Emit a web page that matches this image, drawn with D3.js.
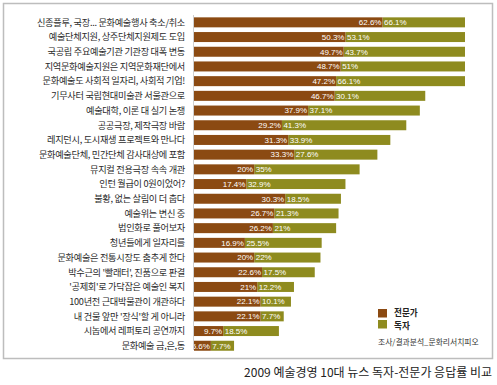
<!DOCTYPE html>
<html><head><meta charset="utf-8">
<script src="https://cdn.jsdelivr.net/npm/d3@7"></script>
<style>
html,body{margin:0;padding:0;background:#fff;}
svg{display:block;}
</style></head>
<body>
<svg id="chart" width="497" height="385"></svg>
<script>
const categories = [
  "신종플루, 국장... 문화예술행사 축소/취소",
  "예술단체지원, 상주단체지원제도 도입",
  "국공립 주요예술기관 기관장 대폭 변동",
  "지역문화예술지원은 지역문화재단에서",
  "문화예술도 사회적 일자리, 사회적 기업!",
  "기무사터 국립현대미술관 서울관으로",
  "예술대학, 이론 대 실기 논쟁",
  "공공극장, 제작극장 바람",
  "레지던시, 도시재생 프로젝트와 만나다",
  "문화예술단체, 민간단체 감사대상에 포함",
  "뮤지컬 전용극장 속속 개관",
  "인턴 월급이 0원이었어?",
  "불황, 없는 살림이 더 춥다",
  "예술위는 변신 중",
  "법인화로 풀어보자",
  "청년들에게 일자리를",
  "문화예술은 전통시장도 춤추게 한다",
  "박수근의 '빨래터', 진품으로 판결",
  "'공제회'로 가닥잡은 예술인 복지",
  "100년전 근대박물관이 개관하다",
  "내 건물 앞만 '장식'할 게 아니라",
  "시놉에서 레퍼토리 공연까지",
  "문화예술 금,은,동"
];
const expertValues = [62.6,50.3,49.7,48.7,47.2,46.7,37.9,29.2,31.3,33.3,20,17.4,30.3,26.7,26.2,16.9,20,22.6,21,22.1,22.1,9.7,5.6];
const readerValues = [66.1,53.1,43.7,51,66.1,30.1,37.1,41.3,33.9,27.6,35,32.9,18.5,21.3,21,25.5,22,17.5,12.2,10.1,7.7,18.5,7.7];
const seriesNames = ["전문가","독자"];
const sourceText = "조사/결과분석_문화리서치피오";
const captionText = "2009 예술경영 10대 뉴스 독자-전문가 응답률 비교";

const colors = {expert:"#8b4a12", reader:"#8e8b1f"};
const svg = d3.select("#chart");
const fontKR = "'Noto Sans CJK KR','Noto Sans',sans-serif";

// frame
svg.append("rect").attr("x",3.5).attr("y",3.5).attr("width",489).attr("height",355)
  .attr("fill","none").attr("stroke","#bdbdbd").attr("stroke-width",1.5);

const x = d3.scaleLinear().domain([0,90]).range([194,465]).clamp(true);
const y = d3.scaleBand().domain(categories).range([15,353.1]).paddingInner(0.32).paddingOuter(0.16);

const rows = categories.map((c,i)=>({c, e:expertValues[i], r:readerValues[i]}));

const g = svg.append("g");
const row = g.selectAll("g.row").data(rows).enter().append("g").attr("class","row");

row.append("rect").attr("x",d=>x(d.e)).attr("y",d=>y(d.c))
  .attr("width",d=>x(d.e+d.r)-x(d.e)).attr("height",y.bandwidth())
  .attr("fill",colors.reader);
row.append("rect").attr("x",x(0)).attr("y",d=>y(d.c))
  .attr("width",d=>x(d.e)-x(0)).attr("height",y.bandwidth())
  .attr("fill",colors.expert);

const fmt = v => v + "%";
row.append("text").attr("x",d=>x(d.e)-1).attr("y",d=>y(d.c)+y.bandwidth()/2)
  .attr("dy","0.35em").attr("text-anchor","end")
  .attr("font-family","'Liberation Sans',Arial,sans-serif").attr("font-size",8)
  .attr("fill","#fff").text(d=>fmt(d.e));
row.append("text").attr("x",d=>x(d.e)+1.5).attr("y",d=>y(d.c)+y.bandwidth()/2)
  .attr("dy","0.35em").attr("text-anchor","start")
  .attr("font-family","'Liberation Sans',Arial,sans-serif").attr("font-size",8)
  .attr("fill","#fff").text(d=>fmt(d.r));

// category labels
row.append("text").attr("x",185).attr("y",d=>y(d.c)+y.bandwidth()/2)
  .attr("dy","0.36em").attr("text-anchor","end")
  .attr("font-family",fontKR).attr("font-size",9.2).attr("letter-spacing","-0.3")
  .attr("fill","#2a2a2a").text(d=>d.c);

// axis line
svg.append("line").attr("x1",193.5).attr("x2",193.5).attr("y1",15).attr("y2",350)
  .attr("stroke","#cfcfcf").attr("stroke-width",1);

// legend
const leg = svg.append("g");
[colors.expert, colors.reader].forEach((c,i)=>{
  leg.append("rect").attr("x",378).attr("y",309+i*11).attr("width",9).attr("height",8.5).attr("fill",c);
  leg.append("text").attr("x",394).attr("y",313+i*12.5).attr("dy","0.35em")
    .attr("font-family",fontKR).attr("font-size",8.6).attr("font-weight","bold")
    .attr("fill","#222").text(seriesNames[i]);
});
svg.append("text").attr("x",378).attr("y",342).attr("dy","0.35em")
  .attr("font-family",fontKR).attr("font-size",7.8).attr("fill","#333").text(sourceText);

// caption
svg.append("text").attr("x",492).attr("y",373).attr("dy","0.35em").attr("text-anchor","end")
  .attr("font-family",fontKR).attr("font-size",12).attr("fill","#222").text(captionText);
</script>
</body></html>
